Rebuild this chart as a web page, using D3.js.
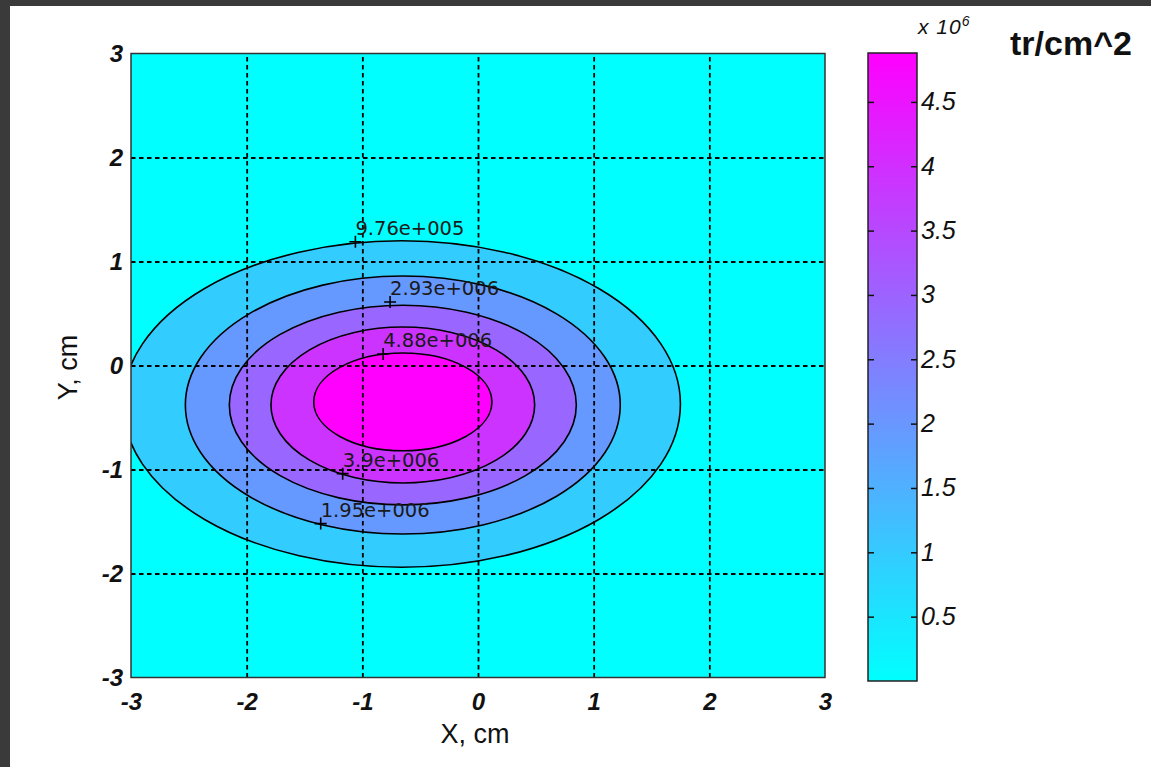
<!DOCTYPE html>
<html>

<head>
	<title>contour</title>
	<meta charset="utf-8">
	<script src="https://d3js.org/d3.v7.min.js"></script>
	<style>
		body {
			margin: 0;
			background-color: #3a3a3a;
		}
		svg {
			display: block;
			font-family: 'Liberation Sans', Arial, sans-serif;
		}
		.tick-label text {
			font-size: 24px;
			font-weight: bold;
			font-style: italic;
			fill: #111;
		}
		.cbar-axis text {
			font-size: 25px;
			font-style: italic;
			fill: #111;
		}
		.grid line {
			stroke: #000;
			stroke-width: 1.8;
			stroke-dasharray: 4.5, 3.5;
		}
		.grid .domain, .tick-label .domain, .cbar-axis .domain {
			display: none;
		}
		.contour {
			stroke: #000;
			stroke-width: 1.6;
		}
		.clabel {
			font-family: 'DejaVu Sans', sans-serif;
			font-size: 19.5px;
			fill: #1a1a1a;
		}
		.marker {
			stroke: #000;
			stroke-width: 1.6;
		}
	</style>
</head>

<body>
	<div id="chart"></div>
</body>

<script>

	// Contour levels (tr/cm^2) and the ellipse each one traces (cm).
	const levels = [9.76e5, 1.95e6, 2.93e6, 3.9e6, 4.88e6];
	const centerX = [-0.66, -0.65, -0.65, -0.65, -0.65];
	const centerY = [-0.37, -0.38, -0.38, -0.38, -0.35];
	const radiusX = [2.41, 1.88, 1.50, 1.14, 0.77];
	const radiusY = [1.57, 1.24, 0.96, 0.75, 0.47];

	// clabel text and the point on the contour it is pinned to.
	const labelText = ['9.76e+005', '1.95e+006', '2.93e+006', '3.9e+006', '4.88e+006'];
	const labelX = [-1.06, -1.36, -0.76, -1.17, -0.82];
	const labelY = [1.19, -1.52, 0.61, -1.04, 0.11];

	// Axes.
	const xTicks = [-3, -2, -1, 0, 1, 2, 3];
	const yTicks = [-3, -2, -1, 0, 1, 2, 3];
	const gridTicks = [-2, -1, 0, 1, 2];
	const colorMin = 0;
	const colorMax = 4.88e6;
	const colorTicks = [0.5e6, 1e6, 1.5e6, 2e6, 2.5e6, 3e6, 3.5e6, 4e6, 4.5e6];

	const W = 1151, H = 767;
	const plot = {left: 131, right: 825, top: 53.5, bottom: 677.5};
	const cbar = {left: 868, right: 917, top: 53, bottom: 681};

	const svg = d3.select('#chart')
	.append('svg')
		.attr('width', W)
		.attr('height', H);

	// Dark frame of the screenshot, white page inside.
	svg.append('rect')
		.attr('x', 10).attr('y', 6)
		.attr('width', W - 10).attr('height', H - 6)
		.attr('fill', '#fff');

	const x = d3.scaleLinear().domain([-3, 3]).range([plot.left, plot.right]);
	const y = d3.scaleLinear().domain([-3, 3]).range([plot.bottom, plot.top]);
	const cool = d3.interpolateRgb('#00ffff', '#ff00ff');
	const color = d3.scaleLinear().domain([colorMin, colorMax]).range([0, 1]).clamp(true);
	const cy = d3.scaleLinear().domain([colorMin, colorMax]).range([cbar.bottom, cbar.top]);

	svg.append('clipPath')
		.attr('id', 'plot-clip')
	.append('rect')
		.attr('x', plot.left).attr('y', plot.top)
		.attr('width', plot.right - plot.left)
		.attr('height', plot.bottom - plot.top);

	const area = svg.append('g').attr('clip-path', 'url(#plot-clip)');

	// Lowest band fills the whole axes.
	area.append('rect')
		.attr('x', plot.left).attr('y', plot.top)
		.attr('width', plot.right - plot.left)
		.attr('height', plot.bottom - plot.top)
		.attr('fill', cool(color(colorMin)));

	// Filled contour bands, outermost first.
	area.selectAll('ellipse')
		.data(levels)
		.enter().append('ellipse')
			.attr('class', 'contour')
			.attr('cx', (d, i) => x(centerX[i]))
			.attr('cy', (d, i) => y(centerY[i]))
			.attr('rx', (d, i) => x(centerX[i] + radiusX[i]) - x(centerX[i]))
			.attr('ry', (d, i) => y(centerY[i]) - y(centerY[i] + radiusY[i]))
			.attr('fill', d => cool(color(d)));

	// Add the X gridlines.
	svg.append('g')
		.attr('class', 'grid')
		.attr('transform', 'translate(0,' + plot.bottom + ')')
		.call(d3.axisBottom(x).tickValues(gridTicks).tickSize(-(plot.bottom - plot.top)).tickFormat(''));

	// Add the Y gridlines.
	svg.append('g')
		.attr('class', 'grid')
		.attr('transform', 'translate(' + plot.left + ',0)')
		.call(d3.axisLeft(y).tickValues(gridTicks).tickSize(-(plot.right - plot.left)).tickFormat(''));

	// Contour labels with their + markers.
	const labels = svg.append('g');
	labels.selectAll('path')
		.data(labelText)
		.enter().append('path')
			.attr('class', 'marker')
			.attr('d', (d, i) => {
				const px = x(labelX[i]), py = y(labelY[i]);
				return 'M' + (px - 6) + ',' + py + 'H' + (px + 6) + 'M' + px + ',' + (py - 6) + 'V' + (py + 6);
			});
	labels.selectAll('text')
		.data(labelText)
		.enter().append('text')
			.attr('class', 'clabel')
			.attr('x', (d, i) => x(labelX[i]))
			.attr('y', (d, i) => y(labelY[i]) - 7)
			.text(d => d);

	// Axes box.
	svg.append('rect')
		.attr('x', plot.left).attr('y', plot.top)
		.attr('width', plot.right - plot.left)
		.attr('height', plot.bottom - plot.top)
		.attr('fill', 'none')
		.attr('stroke', '#333')
		.attr('stroke-width', 1.5);

	// MATLAB prints a plain hyphen for negatives.
	const intFormat = d => String(d);

	// Add X axis.
	svg.append('g')
		.attr('class', 'tick-label')
		.attr('transform', 'translate(0,' + plot.bottom + ')')
		.call(d3.axisBottom(x).tickValues(xTicks).tickSize(0).tickPadding(15).tickFormat(intFormat));

	// Add Y axis.
	svg.append('g')
		.attr('class', 'tick-label')
		.attr('transform', 'translate(' + plot.left + ',0)')
		.call(d3.axisLeft(y).tickValues(yTicks).tickSize(0).tickPadding(8).tickFormat(intFormat));

	svg.append('text')
		.attr('x', (plot.left + plot.right) / 2 - 3)
		.attr('y', 743)
		.attr('text-anchor', 'middle')
		.attr('font-size', 27)
		.attr('fill', '#111')
		.text('X, cm');

	svg.append('text')
		.attr('transform', 'translate(77,' + ((plot.top + plot.bottom) / 2 + 2) + ') rotate(-90)')
		.attr('text-anchor', 'middle')
		.attr('font-size', 27)
		.attr('fill', '#111')
		.text('Y, cm');

	// Colorbar.
	const grad = svg.append('defs').append('linearGradient')
		.attr('id', 'cool')
		.attr('x1', 0).attr('y1', 1).attr('x2', 0).attr('y2', 0);
	grad.selectAll('stop')
		.data([0, 0.25, 0.5, 0.75, 1])
		.enter().append('stop')
			.attr('offset', d => d)
			.attr('stop-color', d => cool(d));

	svg.append('rect')
		.attr('x', cbar.left).attr('y', cbar.top)
		.attr('width', cbar.right - cbar.left)
		.attr('height', cbar.bottom - cbar.top)
		.attr('fill', 'url(#cool)')
		.attr('stroke', '#222')
		.attr('stroke-width', 1.5);

	svg.append('g')
		.attr('class', 'cbar-axis')
		.attr('transform', 'translate(' + cbar.right + ',0)')
		.call(d3.axisRight(cy).tickValues(colorTicks).tickSizeInner(-6).tickSizeOuter(0).tickPadding(4)
			.tickFormat(d => d3.format('~g')(d / 1e6)))
		.selectAll('line').attr('stroke', '#111').attr('stroke-width', 1.5);

	svg.append('g')
		.attr('class', 'cbar-axis')
		.attr('transform', 'translate(' + cbar.left + ',0)')
		.call(d3.axisLeft(cy).tickValues(colorTicks).tickSizeInner(-6).tickSizeOuter(0).tickFormat(''))
		.selectAll('line').attr('stroke', '#111').attr('stroke-width', 1.5);

	const expo = svg.append('text')
		.attr('x', 918)
		.attr('y', 34)
		.attr('font-size', 21)
		.attr('font-style', 'italic')
		.attr('letter-spacing', 1)
		.attr('fill', '#111')
		.text('x 10');
	expo.append('tspan')
		.attr('dy', -8)
		.attr('font-size', 14)
		.attr('letter-spacing', 0)
		.text('6');

	svg.append('text')
		.attr('x', 1010)
		.attr('y', 55)
		.attr('font-size', 34)
		.attr('font-weight', 'bold')
		.attr('fill', '#111')
		.text('tr/cm^2');

</script>

</html>
